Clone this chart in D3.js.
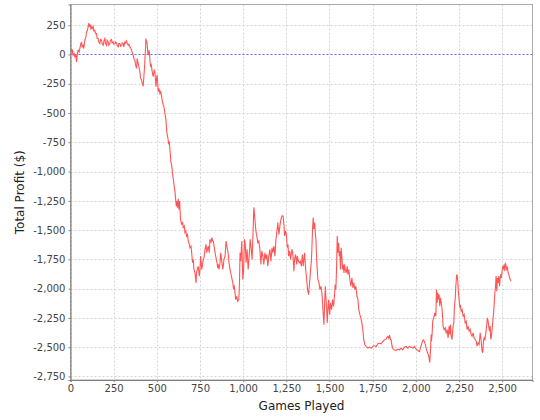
<!DOCTYPE html>
<html><head><meta charset="utf-8">
<script src="https://cdn.jsdelivr.net/npm/d3@7"></script>
<style>
html,body{margin:0;padding:0;background:#fff;}
svg{display:block;}
text{font-family:"DejaVu Sans",sans-serif;}
</style></head>
<body><svg id="chart" width="540" height="420"></svg>
<script>
const games = [2,8,11,15,21,25,31,35,40,44,50,54,60,64,67,73,77,83,89,93,98,102,106,110,114,118,122,125,131,135,141,145,151,154,160,164,170,174,180,183,189,195,199,203,209,212,218,222,228,232,238,241,247,251,257,261,267,270,276,280,286,290,296,299,305,309,315,319,325,328,334,338,344,350,354,359,363,367,373,377,383,386,392,396,402,406,412,415,421,425,429,431,435,437,441,444,448,450,456,460,464,468,472,475,479,485,489,493,495,499,502,506,508,512,518,522,528,531,537,541,547,553,558,564,568,572,576,581,585,589,593,597,601,605,609,613,616,620,624,628,632,636,637,643,649,653,659,663,668,672,678,682,688,692,698,701,707,711,715,721,727,730,734,740,746,750,754,760,765,769,773,779,785,789,793,798,804,808,814,818,824,827,833,839,843,847,853,856,860,866,870,876,882,886,889,895,901,907,913,918,924,930,936,940,944,948,951,957,963,969,975,979,982,986,992,996,998,1002,1008,1013,1017,1023,1029,1035,1041,1046,1052,1058,1062,1066,1068,1074,1079,1085,1091,1097,1103,1108,1114,1120,1126,1132,1137,1143,1149,1155,1161,1167,1172,1178,1184,1190,1196,1201,1207,1213,1219,1225,1231,1237,1240,1246,1250,1256,1260,1263,1269,1275,1279,1283,1289,1294,1298,1304,1310,1314,1317,1325,1331,1337,1343,1348,1356,1362,1368,1373,1379,1383,1387,1391,1395,1398,1402,1406,1410,1414,1418,1422,1425,1429,1433,1439,1445,1451,1456,1460,1464,1468,1472,1476,1479,1483,1487,1491,1495,1501,1506,1512,1518,1524,1530,1533,1537,1541,1545,1549,1553,1557,1560,1564,1568,1572,1576,1580,1584,1587,1591,1597,1603,1607,1612,1618,1624,1630,1636,1641,1647,1653,1659,1665,1670,1676,1682,1688,1693,1699,1705,1713,1722,1732,1742,1751,1761,1771,1780,1790,1799,1809,1819,1828,1834,1838,1844,1848,1853,1857,1863,1869,1877,1886,1896,1906,1915,1925,1934,1944,1954,1963,1973,1983,1992,2002,2012,2021,2027,2035,2042,2050,2056,2062,2069,2075,2081,2085,2089,2091,2095,2098,2104,2110,2116,2120,2124,2127,2131,2135,2139,2143,2149,2154,2158,2164,2170,2176,2182,2187,2193,2197,2201,2205,2210,2216,2220,2224,2228,2232,2236,2239,2243,2247,2251,2255,2259,2263,2268,2274,2280,2286,2292,2297,2303,2309,2315,2321,2326,2332,2338,2344,2350,2355,2361,2367,2373,2378,2384,2388,2392,2396,2400,2406,2411,2415,2419,2423,2427,2431,2434,2438,2442,2446,2450,2454,2458,2462,2465,2469,2473,2477,2481,2485,2489,2492,2496,2500,2504,2508,2512,2516,2519,2523,2527,2531,2535,2539,2543,2547,2552];
const profit = [51,22,42,-6,8,-20,-6,-63,8,37,22,51,93,107,65,79,51,122,150,192,207,235,269,235,258,221,235,221,241,201,207,178,178,136,136,107,93,127,122,93,79,122,136,93,79,122,107,79,93,122,127,99,107,88,93,107,99,79,65,93,93,71,79,99,93,65,107,99,116,93,79,88,65,51,37,8,-6,-34,-48,-91,-119,-34,-77,-105,-148,-204,-218,-247,-270,-190,-105,-48,65,136,107,93,8,-6,37,-48,-105,-91,-134,-162,-190,-134,-148,-233,-275,-204,-176,-261,-318,-289,-332,-318,-360,-389,-431,-445,-502,-560,-670,-713,-756,-741,-812,-912,-940,-983,-1040,-1082,-1125,-1167,-1238,-1295,-1252,-1309,-1233,-1324,-1252,-1366,-1407,-1450,-1435,-1478,-1464,-1521,-1507,-1550,-1536,-1593,-1621,-1650,-1636,-1679,-1779,-1750,-1836,-1865,-1951,-1865,-1836,-1808,-1894,-1836,-1722,-1836,-1793,-1750,-1736,-1664,-1621,-1693,-1664,-1636,-1693,-1579,-1607,-1564,-1593,-1593,-1650,-1707,-1736,-1765,-1822,-1793,-1836,-1779,-1693,-1765,-1836,-1793,-1750,-1722,-1593,-1650,-1693,-1779,-1836,-1879,-1922,-1951,-1994,-1979,-2008,-2094,-2065,-2108,-2094,-1937,-1693,-1765,-1593,-1808,-1922,-1865,-1579,-1636,-1779,-1664,-1836,-1722,-1579,-1650,-1750,-1493,-1306,-1364,-1407,-1507,-1550,-1607,-1593,-1664,-1793,-1679,-1722,-1793,-1693,-1750,-1707,-1808,-1722,-1664,-1765,-1650,-1693,-1636,-1722,-1579,-1507,-1435,-1536,-1464,-1407,-1378,-1379,-1465,-1550,-1507,-1536,-1650,-1622,-1722,-1679,-1750,-1693,-1665,-1722,-1851,-1750,-1708,-1793,-1722,-1750,-1779,-1765,-1808,-1708,-1808,-1693,-1836,-1922,-2008,-2051,-1979,-1908,-1836,-1765,-1665,-1493,-1393,-1493,-1436,-1522,-1593,-1722,-1836,-1922,-1951,-2008,-1979,-2037,-2122,-2222,-2308,-2122,-1979,-2065,-2151,-2294,-2180,-2094,-2222,-2122,-2180,-2094,-2151,-2037,-1965,-2008,-1836,-1550,-1693,-1608,-1722,-1679,-1836,-1650,-1736,-1836,-1793,-1865,-1793,-1836,-1865,-1808,-1879,-1836,-1922,-1979,-1908,-1994,-1951,-2008,-1979,-2065,-2094,-2180,-2222,-2251,-2294,-2351,-2437,-2480,-2494,-2508,-2500,-2508,-2494,-2488,-2494,-2471,-2466,-2471,-2451,-2437,-2431,-2414,-2408,-2423,-2397,-2431,-2437,-2494,-2517,-2523,-2528,-2517,-2523,-2508,-2523,-2500,-2494,-2508,-2494,-2500,-2508,-2494,-2517,-2528,-2537,-2508,-2466,-2437,-2451,-2480,-2523,-2551,-2574,-2631,-2523,-2391,-2448,-2377,-2277,-2249,-2206,-2235,-2007,-2121,-2035,-2092,-2049,-2149,-2078,-2135,-2206,-2320,-2349,-2334,-2377,-2349,-2420,-2320,-2391,-2306,-2406,-2434,-2320,-2292,-2149,-2092,-1978,-1893,-1878,-1935,-2035,-2092,-2163,-2149,-2192,-2178,-2235,-2220,-2292,-2277,-2349,-2320,-2363,-2349,-2391,-2406,-2377,-2420,-2434,-2448,-2491,-2463,-2477,-2377,-2434,-2534,-2548,-2448,-2420,-2434,-2377,-2306,-2249,-2277,-2334,-2363,-2320,-2434,-2406,-2349,-2277,-2220,-2135,-2035,-1978,-1893,-2021,-1907,-1950,-1893,-1978,-1907,-1878,-1907,-1850,-1807,-1835,-1793,-1850,-1778,-1807,-1835,-1821,-1864,-1878,-1907,-1921,-1935];
const xTicks = [0,250,500,750,1000,1250,1500,1750,2000,2250,2500];
const yTicks = [-2750,-2500,-2250,-2000,-1750,-1500,-1250,-1000,-750,-500,-250,0,250];
const xTitle = "Games Played";
const yTitle = "Total Profit ($)";

const svg = d3.select("#chart");
const L = 70.5, T = 4.5, R = 532.5, B = 380;
const x = d3.scaleLinear().domain([0, 2676]).range([L, R]);
const y = d3.scaleLinear().domain([-2780, 427]).range([B, T]);
const loc = d3.formatLocale({decimal:".", thousands:",", grouping:[3], currency:["$",""], minus:"-"});
const fmt = loc.format(",");

svg.append("rect").attr("x",0).attr("y",0).attr("width",540).attr("height",420).attr("fill","#fff");

const grid = svg.append("g").attr("stroke","#d4d4d4").attr("stroke-width",1).attr("stroke-dasharray","2,2");
xTicks.forEach(t => grid.append("line").attr("x1",Math.round(x(t))+0.5).attr("x2",Math.round(x(t))+0.5).attr("y1",T).attr("y2",B));
yTicks.forEach(t => grid.append("line").attr("x1",L).attr("x2",R).attr("y1",Math.round(y(t))+0.5).attr("y2",Math.round(y(t))+0.5));

svg.append("line").attr("x1",L).attr("x2",R).attr("y1",Math.round(y(0))+0.5).attr("y2",Math.round(y(0))+0.5)
  .attr("stroke","#6b6bff").attr("stroke-width",1).attr("stroke-dasharray","2,2");

svg.append("defs").append("clipPath").attr("id","clip").append("rect").attr("x",L).attr("y",T).attr("width",R-L).attr("height",B-T);
const pts = games.map((g,i)=>[g,profit[i]]);
svg.append("path").datum(pts).attr("clip-path","url(#clip)")
  .attr("fill","none").attr("stroke","#ff5555").attr("stroke-width",1.1)
  .attr("d", d3.line().x(d=>x(d[0])).y(d=>y(d[1])));

svg.append("rect").attr("x",L).attr("y",T).attr("width",R-L).attr("height",B-T)
  .attr("fill","none").attr("stroke","#a8a8a8").attr("stroke-width",1);

const xAxis = d3.axisBottom(x).tickValues(xTicks).tickFormat(fmt).tickSize(2).tickPadding(3);
const gx = svg.append("g").attr("transform",`translate(0,${B})`).call(xAxis);
const yAxis = d3.axisLeft(y).tickValues(yTicks).tickFormat(fmt).tickSize(2).tickPadding(3);
const gy = svg.append("g").attr("transform",`translate(${L},0)`).call(yAxis);
[gx,gy].forEach(g=>{
  g.select(".domain").attr("stroke","#808080");
  g.selectAll(".tick line").attr("stroke","#808080");
  g.selectAll(".tick text").attr("fill","#444").style("font-size","10px").style("font-family","'DejaVu Sans',sans-serif");
});

svg.append("text").attr("x",(L+R)/2).attr("y",410).attr("text-anchor","middle")
  .style("font-size","12px").attr("fill","#222").text(xTitle);
svg.append("text").attr("transform",`translate(24,${(T+B)/2}) rotate(-90)`).attr("text-anchor","middle")
  .style("font-size","12px").attr("fill","#222").text(yTitle);
</script></body></html>
